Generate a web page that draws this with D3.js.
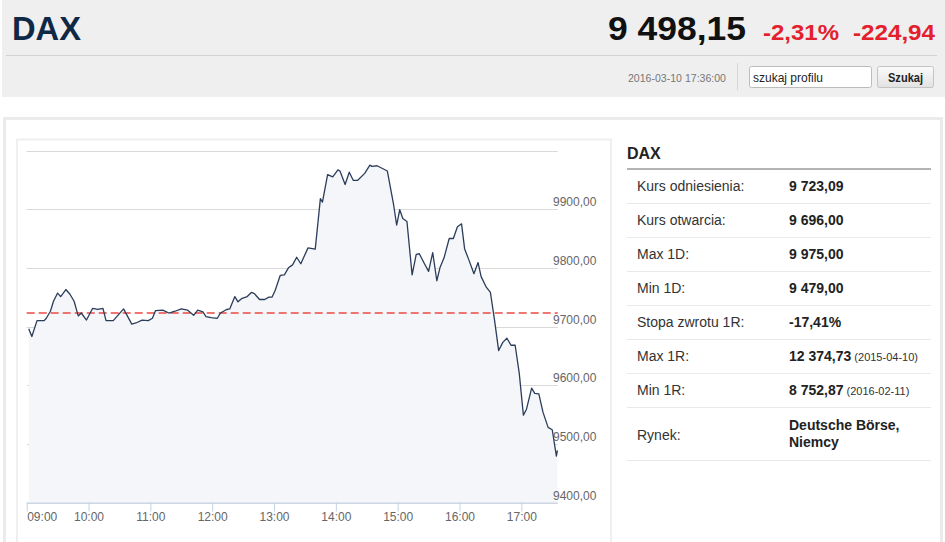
<!DOCTYPE html>
<html>
<head>
<meta charset="utf-8">
<script src="https://cdn.jsdelivr.net/npm/d3@7"></script>
<style>
body { margin: 0; background: #fff; font-family: Arial, "Liberation Sans", sans-serif; }
svg { display: block; }
</style>
</head>
<body>
<script>
// intraday DAX quotes, 2016-03-10
var times = ["09:02","09:05","09:10","09:17","09:19","09:23","09:26","09:30","09:33","09:38","09:42","09:46","09:50","09:53","09:58",
    "10:04","10:09","10:14","10:17","10:24","10:34","10:42","10:46","10:52","10:58",
    "11:02","11:05","11:12","11:18","11:24","11:30","11:36","11:42","11:46","11:51","11:54","11:59",
    "12:05","12:08","12:14","12:17","12:22","12:25","12:29","12:34","12:38","12:41","12:46","12:51","12:55","12:58",
    "13:01","13:06","13:10","13:14","13:18","13:22","13:26","13:33","13:40","13:45","13:47","13:52","13:57",
    "14:02","14:04","14:09","14:13","14:17","14:21","14:28","14:33","14:35","14:40","14:50","14:56","14:59",
    "15:02","15:05","15:09","15:14","15:18","15:21","15:26","15:30","15:34","15:38","15:41","15:45","15:50","15:54","15:58",
    "16:02","16:05","16:09","16:14","16:18","16:21","16:26","16:30","16:34","16:38","16:42","16:46","16:50","16:54","16:58",
    "17:02","17:05","17:10","17:13","17:17","17:21","17:26","17:30","17:34","17:35"];

var quotes = [9696,9683,9710,9710,9714,9726,9743,9757,9751,9763,9755,9743,9718,9723,9711,
    9731,9729,9731,9710,9710,9730,9704,9706,9711,9710,
    9714,9727,9728,9723,9726,9730,9728,9719,9728,9725,9717,9715,
    9714,9723,9729,9730,9751,9742,9748,9751,9758,9756,9746,9746,9750,9750,
    9761,9787,9788,9800,9805,9818,9807,9834,9832,9918,9912,9959,9955,
    9967,9965,9942,9963,9949,9949,9961,9975,9973,9974,9965,9908,9873,
    9899,9884,9879,9788,9823,9824,9807,9794,9826,9778,9800,9817,9850,9850,9870,
    9875,9832,9814,9790,9809,9785,9767,9758,9711,9659,9673,9680,9668,9668,9620,
    9549,9559,9595,9586,9585,9554,9528,9524,9479,9489];

var refValue = 9723.09;
var yTicks = [9400, 9500, 9600, 9700, 9800, 9900, 10000];
var xTicks = ["09:00","10:00","11:00","12:00","13:00","14:00","15:00","16:00","17:00"];
var xStart = "09:00", xEnd = "17:35";

var lastPrice = 9498.15, changePct = -2.31, changeAbs = -224.94;
var quoteDate = "2016-03-10 17:36:00";

var rowLabels = ["Kurs odniesienia:", "Kurs otwarcia:", "Max 1D:", "Min 1D:", "Stopa zwrotu 1R:", "Max 1R:", "Min 1R:", "Rynek:"];
var rowValues = ["9 723,09", "9 696,00", "9 975,00", "9 479,00", "-17,41%", "12 374,73", "8 752,87", "Deutsche Börse,|Niemcy"];
var rowNotes = ["", "", "", "", "", "(2015-04-10)", "(2016-02-11)", ""];

var pl = d3.formatLocale({ decimal: ",", thousands: " ", grouping: [3], currency: ["", " zł"], minus: "-" });
var parseTime = d3.timeParse("%H:%M");

var data = times.map(function (t, i) { return { time: parseTime(t), value: quotes[i] }; });

var svg = d3.select("body").append("svg")
    .attr("width", 945)
    .attr("height", 542);

var defs = svg.append("defs");
var grad = defs.append("linearGradient").attr("id", "btn").attr("x1", 0).attr("y1", 0).attr("x2", 0).attr("y2", 1);
grad.append("stop").attr("offset", "0%").attr("stop-color", "#fbfbfb");
grad.append("stop").attr("offset", "100%").attr("stop-color", "#e2e2e2");

// ---- header ----
var head = svg.append("g");
head.append("rect").attr("x", 2).attr("y", 0).attr("width", 943).attr("height", 97).attr("fill", "#efefef");

head.append("text").attr("x", 12).attr("y", 39.5)
    .attr("font-size", 34).attr("font-weight", "bold").attr("fill", "#0f2846")
    .attr("textLength", 69).attr("lengthAdjust", "spacingAndGlyphs")
    .text("DAX");

head.append("text").attr("x", 608).attr("y", 39.5)
    .attr("font-size", 34).attr("font-weight", "bold").attr("fill", "#111")
    .attr("textLength", 138).attr("lengthAdjust", "spacingAndGlyphs")
    .text(pl.format(",.2f")(lastPrice));

head.append("text").attr("x", 763).attr("y", 39.5)
    .attr("font-size", 22).attr("font-weight", "bold").attr("fill", "#e3202c")
    .attr("textLength", 76).attr("lengthAdjust", "spacingAndGlyphs")
    .text(pl.format(".2f")(changePct) + "%");

head.append("text").attr("x", 853).attr("y", 39.5)
    .attr("font-size", 22).attr("font-weight", "bold").attr("fill", "#e3202c")
    .attr("textLength", 82).attr("lengthAdjust", "spacingAndGlyphs")
    .text(pl.format(".2f")(changeAbs));

head.append("line").attr("x1", 6).attr("x2", 937).attr("y1", 55.5).attr("y2", 55.5).attr("stroke", "#d3d3d3");

head.append("text").attr("x", 628).attr("y", 82)
    .attr("font-size", 11).attr("fill", "#777")
    .attr("textLength", 98).attr("lengthAdjust", "spacingAndGlyphs")
    .text(quoteDate);

head.append("line").attr("x1", 737.5).attr("x2", 737.5).attr("y1", 63).attr("y2", 90).attr("stroke", "#d6d6d6");

head.append("rect").attr("x", 749.5).attr("y", 66.5).attr("width", 122).attr("height", 21).attr("rx", 2)
    .attr("fill", "#fff").attr("stroke", "#bcbcbc");
head.append("text").attr("x", 753).attr("y", 81.5).attr("font-size", 12).attr("fill", "#222").text("szukaj profilu");

head.append("rect").attr("x", 877.5).attr("y", 66.5).attr("width", 56).attr("height", 21).attr("rx", 2)
    .attr("fill", "url(#btn)").attr("stroke", "#c4c4c4");
head.append("text").attr("x", 905.5).attr("y", 81.5).attr("text-anchor", "middle")
    .attr("font-size", 12).attr("font-weight", "bold").attr("fill", "#222")
    .attr("textLength", 35).attr("lengthAdjust", "spacingAndGlyphs")
    .text("Szukaj");

// ---- panels ----
svg.append("rect").attr("x", 4.5).attr("y", 118.5).attr("width", 937).attr("height", 440)
    .attr("fill", "#fff").attr("stroke", "#ebebeb").attr("stroke-width", 3);

svg.append("rect").attr("x", 17).attr("y", 139.5).attr("width", 594).attr("height", 420)
    .attr("fill", "#fff").attr("stroke", "#efefef").attr("stroke-width", 2);

// ---- chart ----
var plot = { left: 26.7, right: 557.4, top: 150.5, bottom: 502.5 };

var x = d3.scaleTime()
    .domain([parseTime(xStart), parseTime(xEnd)])
    .range([plot.left, plot.right]);

var y = d3.scaleLinear()
    .domain([d3.min(yTicks), d3.max(yTicks)])
    .range([plot.bottom, plot.top]);

var g = svg.append("g");

g.append("g").selectAll("line")
    .data(yTicks)
    .join("line")
    .attr("x1", plot.left).attr("x2", 557.7)
    .attr("y1", function (d) { return Math.round(y(d)) + 0.5; })
    .attr("y2", function (d) { return Math.round(y(d)) + 0.5; })
    .attr("stroke", "#d9d9d9");

var area = d3.area()
    .x(function (d) { return x(d.time); })
    .y0(y(yTicks[0]))
    .y1(function (d) { return y(d.value); });

var line = d3.line()
    .x(function (d) { return x(d.time); })
    .y(function (d) { return y(d.value); });

g.append("path")
    .datum(data)
    .attr("fill", "#f4f6f9")
    .attr("d", area);

g.append("line")
    .attr("x1", plot.left).attr("x2", 557.7)
    .attr("y1", y(refValue)).attr("y2", y(refValue))
    .attr("stroke", "#ea4a43").attr("stroke-width", 1.5)
    .attr("stroke-dasharray", "8,4");

g.append("path")
    .datum(data)
    .attr("fill", "none")
    .attr("stroke", "#2b3d5b")
    .attr("stroke-width", 1.3)
    .attr("stroke-linejoin", "round")
    .attr("d", line);

g.append("g").selectAll("text")
    .data(yTicks.slice(0, -1))
    .join("text")
    .attr("x", 553)
    .attr("y", function (d) { return y(d) - 3; })
    .attr("font-size", 12)
    .attr("fill", "#666")
    .text(function (d) { return pl.format(".2f")(d); });

var xAxis = g.append("g")
    .attr("transform", "translate(0," + plot.bottom + ")")
    .call(d3.axisBottom(x)
        .tickValues(xTicks.map(parseTime))
        .tickFormat(d3.timeFormat("%H:%M"))
        .tickSize(9)
        .tickSizeOuter(0)
        .tickPadding(1));

xAxis.select(".domain").attr("stroke", "#c3d3e6");
xAxis.selectAll(".tick line").attr("stroke", "#c3d3e6");
xAxis.selectAll(".tick text")
    .attr("fill", "#666")
    .attr("font-size", 12)
    .attr("font-family", "Arial, 'Liberation Sans', sans-serif");
xAxis.select(".tick text").attr("text-anchor", "start");

// ---- side table ----
var tbl = svg.append("g");
tbl.append("text").attr("x", 627).attr("y", 158.5)
    .attr("font-size", 16).attr("font-weight", "bold").attr("fill", "#222").text("DAX");
tbl.append("line").attr("x1", 627).attr("x2", 931).attr("y1", 169).attr("y2", 169)
    .attr("stroke", "#b3b3b3").attr("stroke-width", 2);

var rowTop = 170, rowH = 34;
rowLabels.forEach(function (lab, i) {
    var top = rowTop + i * rowH;
    var last = i === rowLabels.length - 1;
    var h = last ? 53 : rowH;
    var r = tbl.append("g");
    r.append("text").attr("x", 637).attr("y", top + (last ? 32 : 21))
        .attr("font-size", 14).attr("fill", "#333").text(lab);
    var parts = rowValues[i].split("|");
    parts.forEach(function (p, j) {
        var t = r.append("text").attr("x", 789).attr("y", top + (last ? 22 + j * 17 : 21))
            .attr("font-size", 14).attr("fill", "#222");
        t.append("tspan").attr("font-weight", "bold").text(p);
        if (rowNotes[i]) t.append("tspan").attr("font-size", 11).attr("fill", "#333").text(" " + rowNotes[i]);
    });
    r.append("line").attr("x1", 627).attr("x2", 931)
        .attr("y1", top + h - 0.5).attr("y2", top + h - 0.5)
        .attr("stroke", "#e9e9e9");
});
</script>
</body>
</html>
